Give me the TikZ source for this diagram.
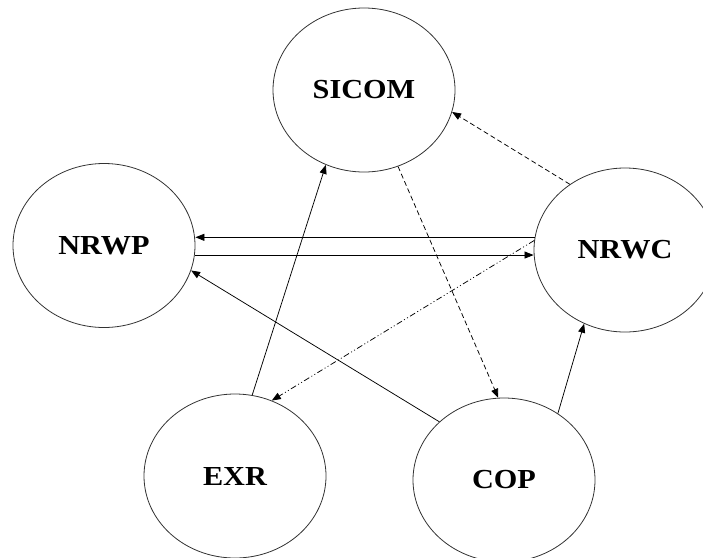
\documentclass[tikz,border=0pt]{standalone}
\usepackage{fontspec}
\newfontfamily\labelfont[FakeStretch=1.1]{Liberation Serif}
\usetikzlibrary{shapes.geometric, arrows.meta}

\begin{document}
\begin{tikzpicture}[
	x=1pt, y=-1pt,
	block/.style={draw=black!80, line width=0.8pt, ellipse, minimum width=182pt, minimum height=164pt, inner sep=0pt, font=\labelfont\bfseries\fontsize{27.5}{31}\selectfont},
	arrow/.style={-{Triangle[length=9pt, width=7pt]}, line width=0.75pt},
	dashline/.style={arrow, dash pattern=on 5pt off 3pt},
	dotline/.style={arrow, dash pattern=on 6pt off 2.5pt on 1pt off 2.5pt on 1pt off 2.5pt}
	]
	
	\useasboundingbox (0,0) rectangle (703,557);
	\clip (0,0) rectangle (703,557);
	
	% Nodes
	\node[block] (sicom) at (364,90) {SICOM};
	\node[block] (nrwp) at (104,245.5) {NRWP};
	\node[block] (nrwc) at (625,250) {NRWC};
	\node[block] (exr) at (235,476) {EXR};
	\node[block] (cop) at (504,480) {COP};
	
	% Solid arrows
	\draw[arrow] (nrwc.172.6) -- (nrwc.172.6 -| nrwp.east);
	\draw[arrow] (nrwp.-6.3) -- (nrwp.-6.3 -| nrwc.west);
	\draw[arrow] (exr.78.9) -- (sicom.243.1);
	\draw[arrow] (cop.138.5) -- (nrwp.-16.4);
	\draw[arrow] (cop.51.9) -- (nrwc.241.3);
	
	% Dashed arrows
	\draw[dashline] (nrwc.130.2) -- (sicom.-14.9);
	\draw[dashline] (sicom.-66.9) -- (cop.94.6);
	
	% Dash-dot arrow
	\draw[dotline] (nrwc.174.1) -- (exr.64.2);
	
\end{tikzpicture}
\end{document}
